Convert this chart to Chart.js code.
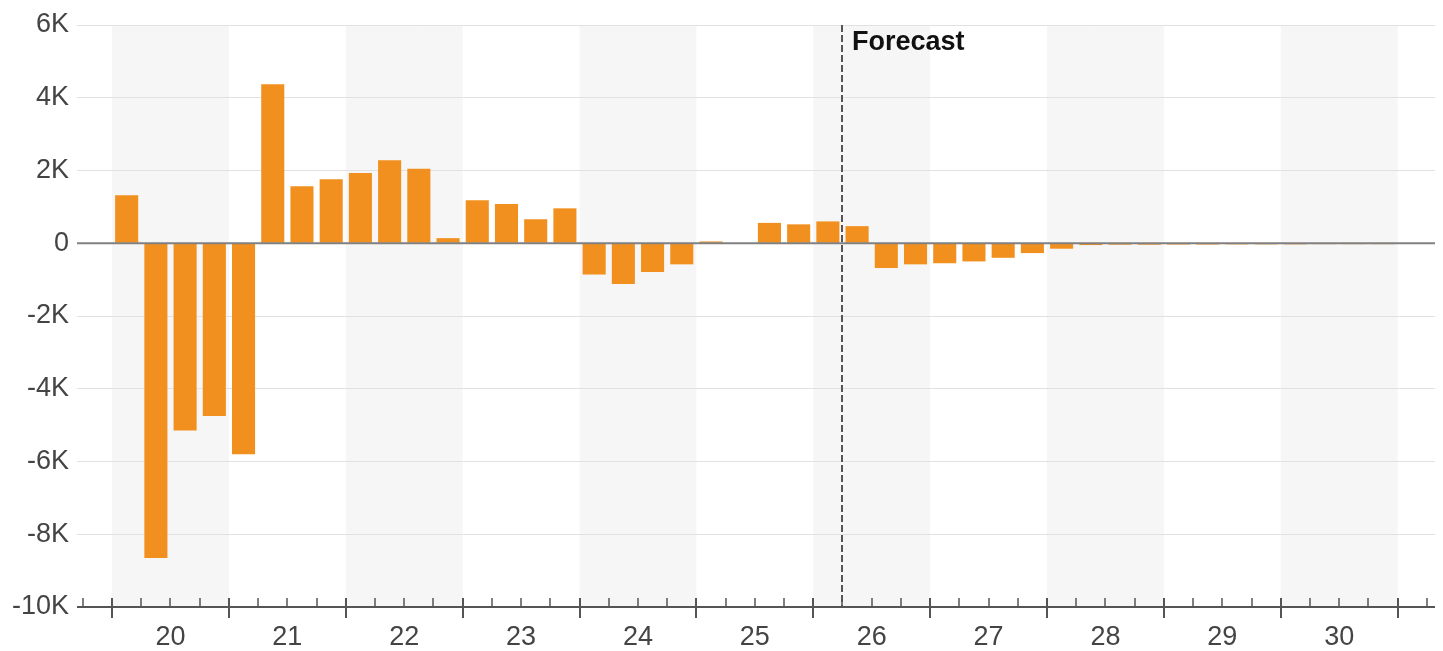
<!DOCTYPE html>
<html>
<head>
<meta charset="utf-8">
<script src="https://cdn.jsdelivr.net/npm/chart.js@4.4.1/dist/chart.umd.min.js"></script>
<style>
  html, body { margin: 0; padding: 0; background: #fff; }
  #wrap { width: 1443px; height: 651px; position: relative; }
</style>
</head>
<body>
<div id="wrap"><canvas id="chart"></canvas></div>
<script>
// =========================
// DADOS
// =========================
const years = [2020, 2021, 2022, 2023, 2024, 2025, 2026, 2027, 2028, 2029, 2030];
const yearLabels = ["20", "21", "22", "23", "24", "25", "26", "27", "28", "29", "30"];
const shadedYears = [2020, 2022, 2024, 2026, 2028, 2030];

// valores trimestrais (Q1..Q4 de cada ano)
const values = [
  1320, -8650, -5150, -4750,
  -5800, 4370, 1570, 1760,
  1930, 2280, 2050, 140,
  1180, 1080, 660, 960,
  -860, -1120, -790, -580,
  50, 0, 560, 520,
  600, 470, -680, -580,
  -550, -500, -400, -270,
  -150, -50, -40, -40,
  -35, -35, -30, -30,
  -30, -25, -25, -25
];

const yTicks = [6000, 4000, 2000, 0, -2000, -4000, -6000, -8000, -10000];
const yTickLabels = ["6K", "4K", "2K", "0", "-2K", "-4K", "-6K", "-8K", "-10K"];

const forecastStart = 2026.25;
const forecastLabel = "Forecast";

// =========================
// HELPERS
// =========================
const points = values.map((v, i) => ({
  x: years[0] + Math.floor(i / 4) + (i % 4) * 0.25 + 0.125,
  y: v
}));

const quarterMarks = [];
for (let q = (years[0] - 0.25) * 4; q <= (years[years.length - 1] + 1.25) * 4; q++) {
  quarterMarks.push(q / 4);
}

const FONT = "'Liberation Sans', Arial, Helvetica, sans-serif";

// =========================
// PLUGIN: faixas, eixo, previsão
// =========================
const decorPlugin = {
  id: "decor",
  beforeDraw(chart) {
    const { ctx, chartArea, scales } = chart;
    const x = scales.x;
    ctx.save();
    ctx.fillStyle = "#f6f6f6";
    shadedYears.forEach(y => {
      const x0 = x.getPixelForValue(y);
      const x1 = x.getPixelForValue(y + 1);
      ctx.fillRect(x0, chartArea.top, x1 - x0, chartArea.bottom - chartArea.top);
    });
    ctx.restore();
  },
  afterDatasetsDraw(chart) {
    const { ctx, chartArea, scales } = chart;
    const x = scales.x;
    const y = scales.y;

    ctx.save();

    // linha do zero
    const y0 = y.getPixelForValue(0);
    ctx.strokeStyle = "#808080";
    ctx.lineWidth = 2;
    ctx.beginPath();
    ctx.moveTo(chartArea.left, y0);
    ctx.lineTo(chartArea.right, y0);
    ctx.stroke();

    // eixo x + marcas
    const base = chartArea.bottom;
    ctx.strokeStyle = "#555";
    ctx.lineWidth = 2;
    ctx.beginPath();
    ctx.moveTo(chartArea.left, base);
    ctx.lineTo(chartArea.right, base);
    ctx.stroke();

    quarterMarks.forEach(v => {
      const px = Math.round(x.getPixelForValue(v));
      const major = Math.abs(v - Math.round(v)) < 1e-6;
      ctx.lineWidth = major ? 2 : 1.5;
      ctx.beginPath();
      ctx.moveTo(px, base - 9);
      ctx.lineTo(px, major ? base + 11 : base);
      ctx.stroke();
    });

    // linha de previsão
    const fx = Math.round(x.getPixelForValue(forecastStart));
    ctx.strokeStyle = "#555";
    ctx.lineWidth = 2;
    ctx.setLineDash([7, 3]);
    ctx.beginPath();
    ctx.moveTo(fx, chartArea.top);
    ctx.lineTo(fx, base);
    ctx.stroke();
    ctx.setLineDash([]);

    ctx.fillStyle = "#111";
    ctx.font = "bold 27px " + FONT;
    ctx.textAlign = "left";
    ctx.textBaseline = "alphabetic";
    ctx.fillText(forecastLabel, fx + 10, chartArea.top + 25);

    ctx.restore();
  }
};

// =========================
// CHART
// =========================
new Chart(document.getElementById("chart"), {
  type: "bar",
  data: {
    datasets: [{
      data: points,
      backgroundColor: "#F2901F",
      borderWidth: 0,
      categoryPercentage: 1,
      barPercentage: 0.79
    }]
  },
  options: {
    responsive: true,
    maintainAspectRatio: false,
    animation: false,
    layout: { padding: { top: 25, right: 8, left: 0, bottom: 0 } },
    plugins: {
      legend: { display: false },
      tooltip: { enabled: false }
    },
    scales: {
      x: {
        type: "linear",
        offset: false,
        min: 2019.7,
        max: 2031.32,
        grid: { display: false, drawTicks: false },
        border: { display: false },
        afterBuildTicks: axis => {
          axis.ticks = years.map(y => ({ value: y + 0.5 }));
        },
        afterFit: axis => { axis.height = 44; },
        ticks: {
          autoSkip: false,
          maxRotation: 0,
          padding: 14,
          color: "#444",
          font: { family: FONT, size: 27 },
          callback: (value, index) => yearLabels[index]
        }
      },
      y: {
        min: -10000,
        max: 6000,
        afterBuildTicks: axis => {
          axis.ticks = yTicks.map(v => ({ value: v }));
        },
        afterFit: axis => { axis.width = 77; },
        grid: {
          drawTicks: false,
          color: "#e1e1e1",
          lineWidth: 1
        },
        border: { display: false },
        ticks: {
          padding: 8,
          color: "#444",
          font: { family: FONT, size: 27 },
          callback: (value, index) => yTickLabels[index]
        }
      }
    }
  },
  plugins: [decorPlugin]
});
</script>
</body>
</html>
